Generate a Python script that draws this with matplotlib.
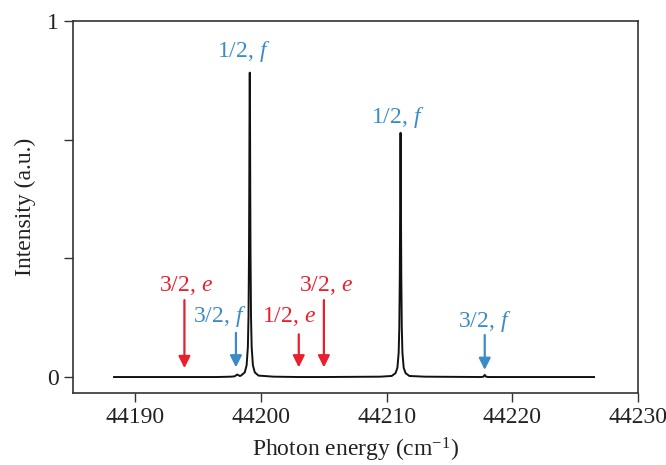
import matplotlib
matplotlib.use('Agg')
import matplotlib.pyplot as plt

plt.rcParams['font.family'] = ['Liberation Serif', 'DejaVu Serif']
plt.rcParams['mathtext.fontset'] = 'custom'
plt.rcParams['mathtext.rm'] = 'Liberation Serif'
plt.rcParams['mathtext.it'] = 'Liberation Serif:italic'

RED = '#e8202e'
BLUE = '#3b8bc9'

# spectrum (cm-1, normalised intensity)
spec_x = [44188.3, 44196.5, 44197.6, 44197.9, 44198.1, 44198.3, 44198.4,
          44198.7, 44198.85, 44198.95, 44199.0, 44199.04, 44199.06, 44199.08,
          44199.1, 44199.12, 44199.14, 44199.16, 44199.2, 44199.25, 44199.35,
          44199.5, 44199.8, 44201.0, 44203.0, 44205.0, 44209.5, 44210.4,
          44210.7, 44210.85, 44210.95, 44211.0, 44211.04, 44211.06, 44211.08,
          44211.1, 44211.12, 44211.14, 44211.16, 44211.2, 44211.25, 44211.35,
          44211.5, 44211.8, 44213.0, 44217.5, 44217.7, 44217.8, 44217.9,
          44218.1, 44226.5]
spec_y = [0.0, 0.0, 0.001, 0.002, 0.007, 0.003, 0.004,
          0.013, 0.033, 0.085, 0.17, 0.35, 0.52, 0.74,
          0.855, 0.74, 0.52, 0.35, 0.17, 0.085, 0.033,
          0.013, 0.004, 0.001, 0.0, 0.0, 0.001, 0.003,
          0.011, 0.026, 0.068, 0.137, 0.28, 0.42, 0.59,
          0.686, 0.59, 0.42, 0.28, 0.137, 0.068, 0.026,
          0.011, 0.003, 0.001, 0.0, 0.001, 0.006, 0.001,
          0.0, 0.0]

# labels: text, colour, text x, text y, arrow x, arrow top, arrow tip
labels = ['1/2, $f$', '1/2, $f$', '3/2, $e$', '3/2, $f$', '1/2, $e$', '3/2, $e$', '3/2, $f$']
label_colors = [BLUE, BLUE, RED, BLUE, RED, RED, BLUE]
label_x = [44198.6, 44210.9, 44194.0, 44196.7, 44202.2, 44205.2, 44217.8]
label_y = [0.913, 0.73, 0.258, 0.17, 0.17, 0.258, 0.155]
arrow_x = [None, None, 44193.9, 44198.0, 44203.0, 44205.0, 44217.8]
arrow_top = [None, None, 0.216, 0.124, 0.12, 0.216, 0.118]
arrow_tip = [None, None, 0.025, 0.027, 0.027, 0.027, 0.02]

fig = plt.figure(figsize=(6.66, 4.65), dpi=100)
ax = fig.add_axes([0.109, 0.1555, 0.849, 0.7993])

ax.plot(spec_x, spec_y, color='#111111', lw=1.4)

for t, c, tx, ty, axx, a0, a1 in zip(labels, label_colors, label_x, label_y,
                                     arrow_x, arrow_top, arrow_tip):
    ax.text(tx, ty, t, color=c, fontsize=17, ha='center', va='center')
    if axx is not None:
        ax.annotate('', xy=(axx, a1), xytext=(axx, a0),
                    arrowprops=dict(arrowstyle='-|>,head_width=0.35,head_length=0.7',
                                    color=c, lw=1.6, shrinkA=0, shrinkB=0))

ax.set_xlim(44185, 44230)
ax.set_ylim(-0.044, 1.0)
ax.set_xticks([44190, 44200, 44210, 44220, 44230])
ax.set_yticks([0, 1/3, 2/3, 1])
ax.set_yticklabels(['0', '', '', '1'])
ax.tick_params(direction='out', length=6.5, width=1.0, labelsize=17, colors='#333333',
               labelcolor='#222222')
for s in ax.spines.values():
    s.set_linewidth(1.2)
    s.set_color('#333333')

ax.set_xlabel('Photon energy (cm$^{\\mathrm{-1}}$)', fontsize=17, color='#222222',
              labelpad=6)
ax.set_ylabel('Intensity (a.u.)', fontsize=17, color='#222222', labelpad=8)

fig.savefig('out.png', dpi=100)
